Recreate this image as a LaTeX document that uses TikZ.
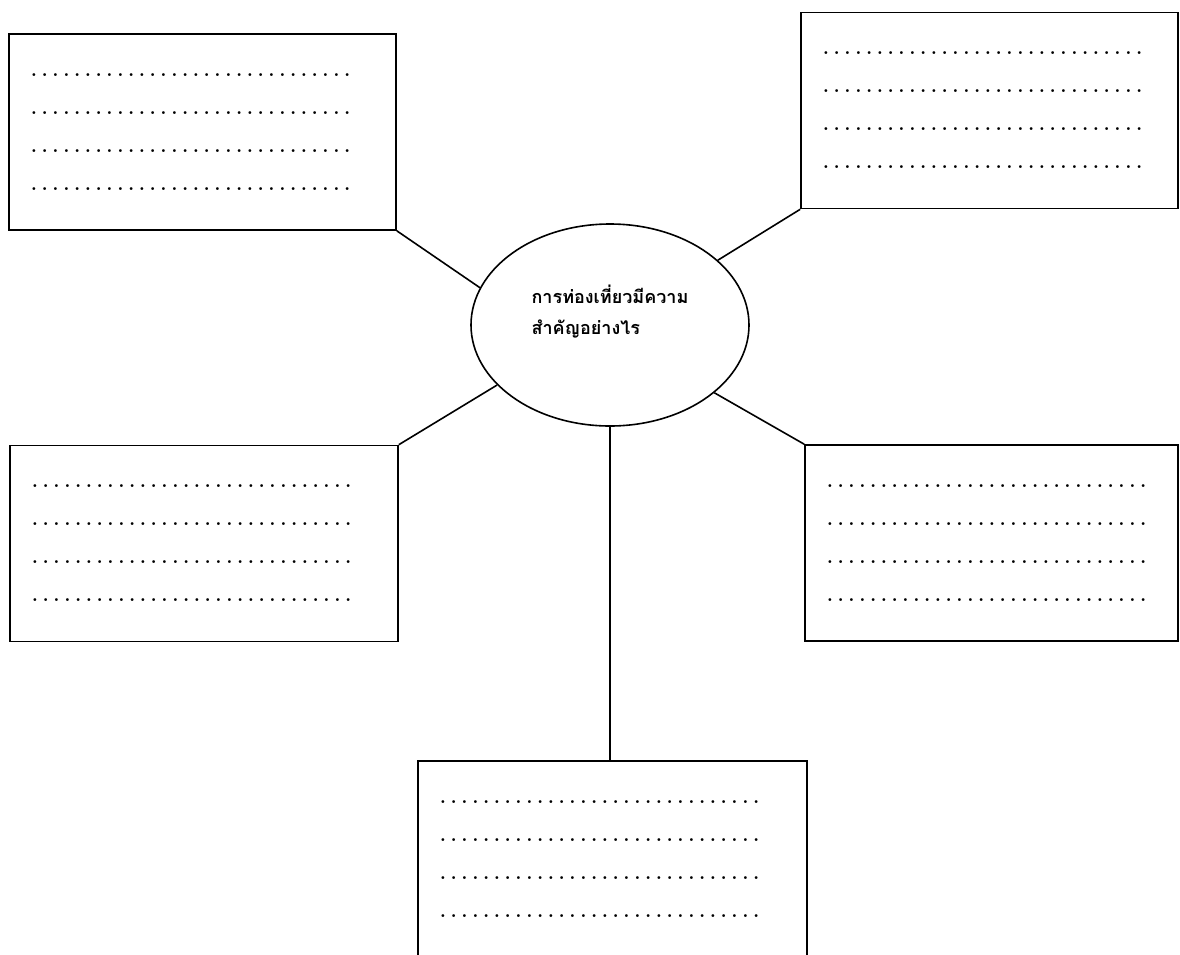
\documentclass[tikz,border=0pt]{standalone}
\usepackage{fontspec}
\newfontfamily\thaifont[Script=Thai]{Loma}
\usetikzlibrary{shapes.geometric}
\newcommand{\dotrow}{\foreach \d in {1,...,30}{\makebox[10.8pt]{.}}}
\newcommand{\dotlines}{\dotrow\\\dotrow\\\dotrow\\\dotrow\par\vspace*{6pt}}

\begin{document}
\begin{tikzpicture}[x=1pt,y=-1pt,
  panel/.style={draw,line width=1.6pt,minimum height=196pt,inner xsep=19.6pt,inner ysep=0pt,
    align=left,font=\fontsize{20}{38}\selectfont\bfseries},
  hub/.style={ellipse,draw,line width=1.6pt,minimum width=278pt,minimum height=202pt,
    inner sep=0pt,align=left,font=\thaifont\fontsize{18}{31}\selectfont\bfseries},
  link/.style={line width=1.6pt}]
\useasboundingbox (0,0) rectangle (1180,954);
\node[hub] (hub) at (610,325) {การท่องเที่ยวมีความ\\สำคัญอย่างไร\par\vspace*{26pt}};
% answer boxes
\node[panel,text width=347.8pt] (tl) at (202.5,132) {\dotlines};
\node[panel,text width=337.8pt] (tr) at (989.5,110.5) {\dotlines};
\node[panel,text width=348.8pt] (lm) at (204,543.5) {\dotlines};
\node[panel,text width=333.8pt] (rm) at (991.5,543) {\dotlines};
\node[panel,text width=349.8pt] (bm) at (612.5,859) {\dotlines};
% spokes
\draw[link] (tl.south east) -- (hub.164);
\draw[link] (tr.south west) -- (hub.31);
\draw[link] (lm.north east) -- (hub.208);
\draw[link] (rm.north west) -- (hub.327);
\draw[link] (hub.south) -- (hub.south |- bm.north);
\end{tikzpicture}
\end{document}
